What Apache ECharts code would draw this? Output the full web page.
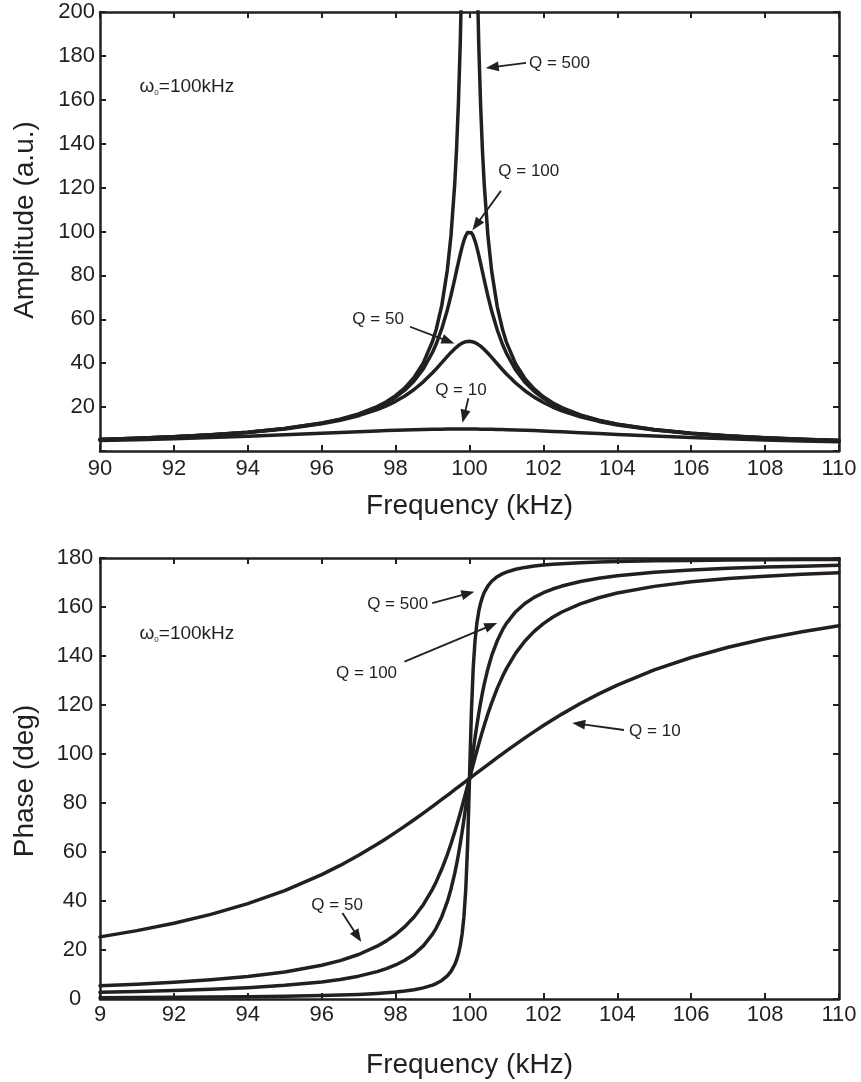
<!DOCTYPE html>
<html>
<head>
<meta charset="utf-8">
<script src="https://cdn.jsdelivr.net/npm/echarts@6/dist/echarts.min.js"></script>
<style>
html,body{margin:0;padding:0;background:#fff;}
#main{width:861px;height:1082px;}
</style>
</head>
<body>
<div id="main"></div>
<script>
// ---------------- data ----------------
var freq = [90,91,92,93,94,95,96,96.5,97,97.5,
  97.75,98,98.25,98.5,98.75,99,99.1,99.25,99.4,99.5,99.6,99.65,99.7,99.75,99.8,99.85,99.9,99.95,
  100,
  100.05,100.1,100.15,100.2,100.25,100.3,100.35,100.4,100.5,100.6,100.75,100.9,
  101,101.25,101.5,101.75,
  102,102.25,102.5,
  103,103.5,104,
  105,106,107,108,109,110];

var ampQ10 = [4.76,5.14,5.59,6.10,6.68,7.35,8.07,8.44,8.80,9.15,
  9.31,9.46,9.60,9.72,9.82,9.90,9.93,9.96,9.99,10.00,10.01,10.01,10.01,10.01,10.01,10.01,10.01,10.00,
  10.00,
  9.99,9.99,9.98,9.97,9.96,9.95,9.94,9.93,9.90,9.87,9.82,9.76,
  9.71,9.59,9.44,9.29,
  9.12,8.94,8.75,
  8.36,7.96,7.57,
  6.82,6.14,5.55,5.04,4.60,4.22];
var ampQ50 = [5.24,5.79,6.46,7.33,8.48,10.07,12.39,14.00,16.08,18.84,
  20.58,22.63,25.08,28.01,31.51,35.62,37.43,40.25,43.10,44.92,46.60,47.35,48.03,48.63,49.13,49.52,49.80,49.96,
  50.00,
  49.91,49.70,49.38,48.94,48.39,47.76,47.04,46.25,44.52,42.65,39.76,36.91,
  35.09,30.97,27.47,24.54,
  22.10,20.04,18.31,
  15.56,13.48,11.88,
  9.56,7.97,6.83,5.96,5.28,4.74];
var ampQ100 = [5.26,5.81,6.50,7.38,8.56,10.21,12.66,14.40,16.70,19.87,
  21.95,24.51,27.73,31.89,37.41,44.99,48.84,55.74,64.29,70.98,78.34,82.17,85.97,89.64,93.02,95.92,98.15,99.55,
  100.00,
  99.45,97.96,95.65,92.69,89.24,85.53,81.68,77.83,70.45,63.75,55.20,48.30,
  44.46,36.88,31.36,27.22,
  24.00,21.44,19.36,
  16.19,13.89,12.16,
  9.71,8.06,6.88,6.00,5.31,4.76];
var ampQ500 = [5.26,5.82,6.51,7.40,8.59,10.25,12.75,14.53,16.91,20.24,
  22.45,25.22,28.78,33.51,40.13,50.01,55.47,66.34,82.45,98.31,121.53,137.66,158.37,185.95,223.9,277.6,353.8,447.2,
  500.0,
  447.0,353.3,277.1,223.3,185.4,157.85,137.06,121.0,97.81,81.95,65.82,54.97,
  49.50,39.62,33.01,28.28,
  24.72,21.95,19.74,
  16.41,14.03,12.25,
  9.75,8.09,6.90,6.01,5.32,4.76];

var phaseQ10 = [25.35,27.90,30.92,34.54,38.92,44.26,50.76,54.52,58.65,63.14,
  65.53,68.00,70.55,73.18,75.88,78.63,79.75,81.44,83.14,84.27,85.42,85.99,86.56,87.13,87.71,88.28,88.85,89.43,
  90.00,
  90.57,91.15,91.72,92.29,92.86,93.43,94.00,94.57,95.70,96.82,98.50,100.16,
  101.26,103.95,106.58,109.13,
  111.61,113.99,116.28,
  120.59,124.53,128.12,
  134.31,139.39,143.56,147.02,149.91,152.35];
var phaseQ50 = [5.41,6.04,6.83,7.84,9.17,11.03,13.76,15.68,18.17,21.55,
  23.72,26.33,29.53,33.49,38.48,44.86,47.89,53.03,58.96,63.38,68.16,70.68,73.28,75.95,78.68,81.46,84.29,87.14,
  90.00,
  92.86,95.71,98.52,101.30,104.02,106.68,109.26,111.76,116.51,120.89,126.77,131.86,
  134.86,141.17,146.11,150.04,
  153.21,155.80,157.95,
  161.31,163.79,165.70,
  168.42,170.27,171.60,172.60,173.39,174.02];
var phaseQ100 = [2.71,3.03,3.43,3.94,4.62,5.57,6.98,7.99,9.32,11.17,
  12.39,13.90,15.81,18.30,21.68,26.45,28.95,33.59,39.72,44.93,51.28,54.96,59.00,63.41,68.18,73.29,78.69,84.29,
  90.00,
  95.71,101.30,106.69,111.78,116.53,120.92,124.94,128.61,134.93,140.11,146.21,150.84,
  153.32,158.08,161.44,163.92,
  165.83,167.34,168.55,
  170.40,171.73,172.74,
  174.15,175.10,175.78,176.29,176.68,177.00];
var phaseQ500 = [0.54,0.61,0.69,0.79,0.93,1.12,1.40,1.61,1.88,2.26,
  2.52,2.83,3.24,3.79,4.55,5.68,6.31,7.57,9.43,11.28,14.01,15.92,18.41,21.78,26.54,33.68,44.99,63.43,
  90.00,
  116.56,134.99,146.29,153.41,158.17,161.54,164.03,165.94,168.66,170.51,172.38,173.63,
  174.26,175.40,176.16,176.70,
  177.11,177.43,177.68,
  178.06,178.34,178.54,
  178.83,179.02,179.15,179.26,179.34,179.40];

var xTicksTop = ['90','92','94','96','98','100','102','104','106','108','110'];
var xTicksBottom = ['9','92','94','96','98','100','102','104','106','108','110'];
var yTicksAmp = ['','20','40','60','80','100','120','140','160','180','200'];
var yTicksPhase = ['0','20','40','60','80','100','120','140','160','180'];

var ampNote = {x: 91.07, y: 165.8};
var phaseNote = {x: 91.07, y: 149.0};
// annotations: text anchor (left, middle) and arrow start -> tip, in data units
var ampLabels = [
  {text: 'Q = 500', tx: 101.61, ty: 176.7, ax: 101.53, ay: 176.8, bx: 100.44, by: 174.5},
  {text: 'Q = 100', tx: 100.78, ty: 127.2, ax: 100.85, ay: 118.5, bx: 100.08, by: 100.6},
  {text: 'Q = 50',  tx: 96.83,  ty: 60.1,  ax: 98.39,  ay: 56.6,  bx: 99.59,  by: 49.0},
  {text: 'Q = 10',  tx: 99.07,  ty: 27.8,  ax: 99.97,  ay: 24.0,  bx: 99.81,  by: 12.9}
];
var phaseLabels = [
  {text: 'Q = 500', tx: 97.23,  ty: 161.2, ax: 98.99,  ay: 161.6, bx: 100.13, by: 166.2},
  {text: 'Q = 100', tx: 96.39,  ty: 133.1, ax: 98.24,  ay: 137.7, bx: 100.75, by: 153.5},
  {text: 'Q = 10',  tx: 104.32, ty: 109.1, ax: 104.18, ay: 109.8, bx: 102.78, by: 112.7},
  {text: 'Q = 50',  tx: 95.72,  ty: 38.4,  ax: 96.56,  ay: 35.1,  bx: 97.07,  by: 23.3}
];

// ---------------- chart ----------------
var INK = '#231f20';
var FONT = '"Liberation Sans", Arial, Helvetica, sans-serif';
var chart = echarts.init(document.getElementById('main'), null, {renderer: 'canvas'});

function pairs(arr) { return freq.map(function (f, i) { return [f, arr[i]]; }); }
function tickIdx(v, min, step) { return Math.round((v - min) / step); }

function xAx(grid, pos, labels, margin, name, gap) {
  return {
    type: 'value', gridIndex: grid, position: pos, min: 90, max: 110, interval: 2,
    axisLine: {show: true, onZero: false, lineStyle: {color: INK, width: 2.5}},
    axisTick: {show: true, inside: true, length: 6, lineStyle: {color: INK, width: 2}},
    splitLine: {show: false},
    axisLabel: labels ? {
      show: true, color: INK, fontFamily: FONT, fontSize: 22, margin: margin,
      formatter: function (v) { return labels[tickIdx(v, 90, 2)]; }
    } : {show: false},
    name: name || '', nameLocation: 'middle', nameGap: gap || 0,
    nameTextStyle: {color: INK, fontFamily: FONT, fontSize: 28}
  };
}
function yAx(grid, pos, max, labels, align, margin) {
  return {
    type: 'value', gridIndex: grid, position: pos, min: 0, max: max, interval: 20,
    axisLine: {show: true, onZero: false, lineStyle: {color: INK, width: 2.5}},
    axisTick: {show: true, inside: true, length: 6, lineStyle: {color: INK, width: 2}},
    splitLine: {show: false},
    axisLabel: labels ? {
      show: true, color: INK, fontFamily: FONT, fontSize: 22, margin: margin, align: align,
      formatter: function (v) { return labels[tickIdx(v, 0, 20)]; }
    } : {show: false}
  };
}
function lineSeries(name, x, y, arr) {
  return {
    name: name, type: 'line', xAxisIndex: x, yAxisIndex: y, data: pairs(arr),
    showSymbol: false, symbol: 'none', smooth: false, clip: true,
    lineStyle: {color: INK, width: 3.5, join: 'round', cap: 'round'}, silent: true, animation: false
  };
}

chart.setOption({
  animation: false,
  backgroundColor: '#ffffff',
  grid: [
    {left: 100, right: 22, top: 12, height: 439},
    {left: 100, right: 22, top: 558, height: 441}
  ],
  xAxis: [
    xAx(0, 'bottom', xTicksTop, 7, 'Frequency (kHz)', 41),
    xAx(0, 'top', null),
    xAx(1, 'bottom', xTicksBottom, 5, 'Frequency (kHz)', 52),
    xAx(1, 'top', null)
  ],
  yAxis: [
    yAx(0, 'left', 200, yTicksAmp, 'right', 5),
    yAx(0, 'right', 200, null),
    yAx(1, 'left', 180, yTicksPhase, 'center', 25),
    yAx(1, 'right', 180, null)
  ],
  series: [
    lineSeries('A Q=10', 0, 0, ampQ10),
    lineSeries('A Q=50', 0, 0, ampQ50),
    lineSeries('A Q=100', 0, 0, ampQ100),
    lineSeries('A Q=500', 0, 0, ampQ500),
    lineSeries('P Q=10', 2, 2, phaseQ10),
    lineSeries('P Q=50', 2, 2, phaseQ50),
    lineSeries('P Q=100', 2, 2, phaseQ100),
    lineSeries('P Q=500', 2, 2, phaseQ500)
  ]
});

function buildGraphics() {
  var els = [];
  function px(si, x, y) { return chart.convertToPixel({seriesIndex: si}, [x, y]); }
  function arrow(a, b) {
    var dx = b[0] - a[0], dy = b[1] - a[1];
    var L = Math.sqrt(dx * dx + dy * dy); var ux = dx / L, uy = dy / L;
    var hl = 13, hw = 5;
    var base = [b[0] - ux * hl, b[1] - uy * hl];
    els.push({type: 'line', silent: true, shape: {x1: a[0], y1: a[1], x2: base[0] + ux * 2, y2: base[1] + uy * 2},
      style: {stroke: INK, lineWidth: 1.8}});
    els.push({type: 'polygon', silent: true, shape: {points: [
      b, [base[0] - uy * hw, base[1] + ux * hw], [base[0] + uy * hw, base[1] - ux * hw]]},
      style: {fill: INK}});
  }
  function notes(si, list) {
    list.forEach(function (n) {
      var t = px(si, n.tx, n.ty);
      els.push({type: 'text', silent: true, x: t[0], y: t[1],
        style: {text: n.text, fill: INK, font: '17px ' + FONT, textAlign: 'left', textVerticalAlign: 'middle'}});
      arrow(px(si, n.ax, n.ay), px(si, n.bx, n.by));
    });
  }
  function omega(si, p) {
    var t = px(si, p.x, p.y);
    els.push({type: 'text', silent: true, x: t[0], y: t[1],
      style: {text: '{a|ω}{s|0}{a|=100kHz}', textAlign: 'left', textVerticalAlign: 'middle',
        rich: {a: {fontSize: 19, fontFamily: FONT, fill: INK, color: INK},
               s: {fontSize: 8, fontFamily: FONT, fill: INK, color: INK, verticalAlign: 'bottom', padding: [8, 0, 0, 0]}}}});
  }
  notes(0, ampLabels);
  notes(4, phaseLabels);
  omega(0, ampNote);
  omega(4, phaseNote);
  // y-axis titles
  els.push({type: 'text', silent: true, x: 25, y: 220, rotation: Math.PI / 2,
    style: {text: 'Amplitude (a.u.)', fill: INK, font: '28px ' + FONT, textAlign: 'center', textVerticalAlign: 'middle'}});
  els.push({type: 'text', silent: true, x: 25, y: 781, rotation: Math.PI / 2,
    style: {text: 'Phase (deg)', fill: INK, font: '28px ' + FONT, textAlign: 'center', textVerticalAlign: 'middle'}});
  chart.setOption({graphic: {elements: els}});
}
buildGraphics();
</script>
</body>
</html>
